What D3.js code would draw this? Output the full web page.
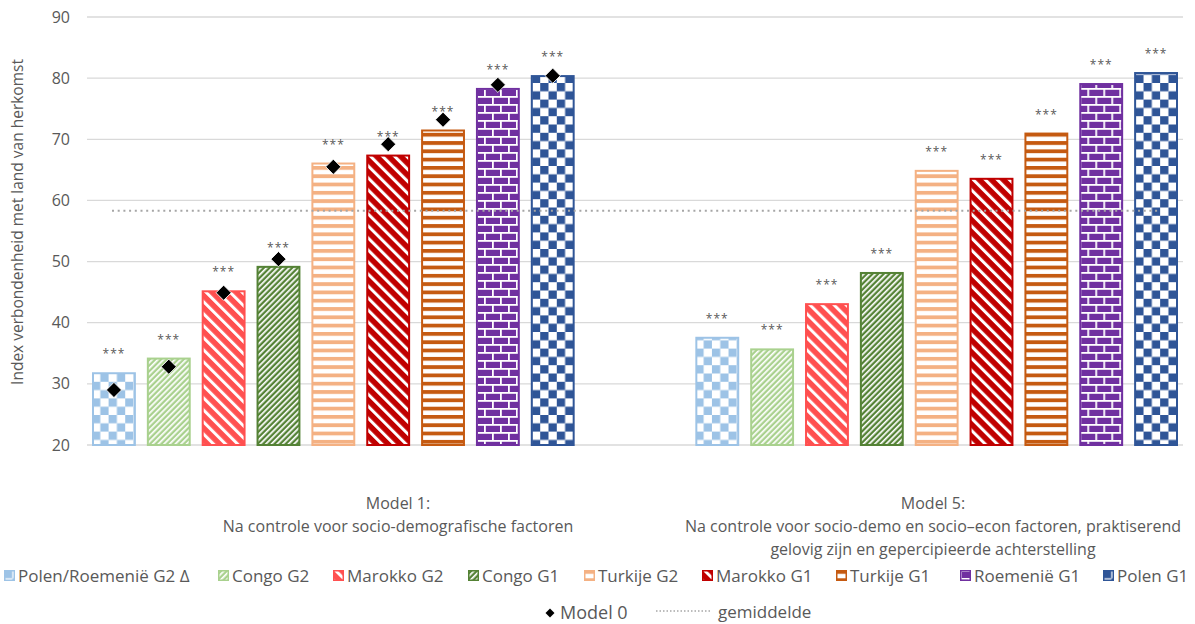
<!DOCTYPE html>
<html><head><meta charset="utf-8">
<script src="https://cdn.jsdelivr.net/npm/d3@7"></script>
<style>
html,body{margin:0;padding:0;background:#fff;}
svg{display:block;font-family:"Open Sans",sans-serif;}
</style></head>
<body>
<svg id="chart" width="1195" height="624"></svg>
<script>
// ---------- data ----------
const groups = ["Model 1", "Model 5"];
const groupLabels = [
  ["Model 1:", "Na controle voor socio-demografische factoren"],
  ["Model 5:", "Na controle voor socio-demo en socio\u2013econ factoren, praktiserend", "gelovig zijn en gepercipieerde achterstelling"]
];
const series = ["Polen/Roemenië G2 \u0394", "Congo G2", "Marokko G2", "Congo G1", "Turkije G2", "Marokko G1", "Turkije G1", "Roemenië G1", "Polen G1"];
const model1 = [31.9, 34.3, 45.3, 49.3, 66.2, 67.5, 71.6, 78.4, 80.5];
const model5 = [37.7, 35.8, 43.2, 48.3, 65.0, 63.7, 71.1, 79.2, 81.0];
const model0 = [29.0, 32.8, 44.9, 50.4, 65.5, 69.2, 73.2, 78.9, 80.4];
const sigModel1 = ["***", "***", "***", "***", "***", "***", "***", "***", "***"];
const sigModel5 = ["***", "***", "***", "***", "***", "***", "***", "***", "***"];
const gemiddelde = 58.3;
const yTicks = [20, 30, 40, 50, 60, 70, 80, 90];
const yTitle = "Index verbondenheid met land van herkomst";

// ---------- styles ----------
const colors = ["#9DC3E6", "#A9D18E", "#FF5050", "#548235", "#F4B183", "#C00000", "#C55A11", "#7030A0", "#2F5597"];
const kinds = ["check", "thin", "wide", "thin", "hstripe", "wide", "hstripe", "brick", "check"];

const svg = d3.select("#chart");
const defs = svg.append("defs");
series.forEach((s, i) => {
  const c = colors[i], k = kinds[i], id = "pat" + i;
  let p;
  if (k === "check") {
    p = defs.append("pattern").attr("id", id).attr("patternUnits", "userSpaceOnUse").attr("width", 16.6).attr("height", 16.6);
    p.append("rect").attr("width", 16.6).attr("height", 16.6).attr("fill", "#fff");
    p.append("rect").attr("width", 8.3).attr("height", 8.3).attr("fill", c);
    p.append("rect").attr("x", 8.3).attr("y", 8.3).attr("width", 8.3).attr("height", 8.3).attr("fill", c);
  } else if (k === "thin") {
    p = defs.append("pattern").attr("id", id).attr("patternUnits", "userSpaceOnUse").attr("width", 4).attr("height", 10).attr("patternTransform", "rotate(45)");
    p.append("rect").attr("width", 4).attr("height", 10).attr("fill", c);
    p.append("rect").attr("width", 1.7).attr("height", 10).attr("fill", "#fff");
  } else if (k === "wide") {
    p = defs.append("pattern").attr("id", id).attr("patternUnits", "userSpaceOnUse").attr("width", 8.5).attr("height", 10).attr("patternTransform", "rotate(-45)");
    p.append("rect").attr("width", 8.5).attr("height", 10).attr("fill", c);
    p.append("rect").attr("width", 3).attr("height", 10).attr("fill", "#fff");
  } else if (k === "hstripe") {
    p = defs.append("pattern").attr("id", id).attr("patternUnits", "userSpaceOnUse").attr("width", 10).attr("height", 8.3);
    p.append("rect").attr("width", 10).attr("height", 8.3).attr("fill", "#fff");
    p.append("rect").attr("width", 10).attr("height", 3.8).attr("fill", c);
  } else if (k === "brick") {
    p = defs.append("pattern").attr("id", id).attr("patternUnits", "userSpaceOnUse").attr("width", 16).attr("height", 16);
    p.append("rect").attr("width", 16).attr("height", 16).attr("fill", c);
    p.append("rect").attr("width", 16).attr("height", 1.8).attr("fill", "#fff");
    p.append("rect").attr("y", 8).attr("width", 16).attr("height", 1.8).attr("fill", "#fff");
    p.append("rect").attr("x", 0).attr("width", 1.8).attr("height", 8).attr("fill", "#fff");
    p.append("rect").attr("x", 8).attr("y", 8).attr("width", 1.8).attr("height", 8).attr("fill", "#fff");
  }
});

// ---------- scales ----------
const plotLeft = 87, plotRight = 1183;
const y = d3.scaleLinear().domain([20, 90]).range([445, 17]);
const x0 = d3.scaleBand().domain(groups).range([92, 1178]).paddingInner(0.2).paddingOuter(0);
const x1 = d3.scaleBand().domain(series).range([0, x0.bandwidth()]).paddingInner(0.2).paddingOuter(0);

// gridlines
svg.append("g").selectAll("line").data(yTicks).join("line")
  .attr("x1", plotLeft).attr("x2", plotRight)
  .attr("y1", d => y(d)).attr("y2", d => y(d))
  .attr("stroke", "#d9d9d9").attr("stroke-width", 1.3);

// y axis (labels only)
const yAxis = d3.axisLeft(y).tickValues(yTicks).tickSize(0).tickPadding(0).tickFormat(d3.format("d"));
const ya = svg.append("g").attr("transform", "translate(70,0)").call(yAxis);
ya.select(".domain").remove();
ya.selectAll("text").attr("fill", "#595959").style("font-size", "16px").style("font-family", "'Open Sans',sans-serif");

// y title
svg.append("text").attr("transform", "translate(23,222) rotate(-90)")
  .attr("text-anchor", "middle").attr("fill", "#595959").style("font-size", "15.5px").text(yTitle);

// bars
const groupData = [
  {g: groups[0], vals: model1, sig: sigModel1, m0: model0},
  {g: groups[1], vals: model5, sig: sigModel5, m0: null}
];
groupData.forEach(gd => {
  const gg = svg.append("g").attr("transform", `translate(${x0(gd.g)},0)`);
  const items = series.map((s, i) => ({s, i, v: gd.vals[i], sig: gd.sig[i]}));
  gg.selectAll("rect.bar").data(items).join("rect").attr("class", "bar")
    .attr("x", d => x1(d.s) + 1).attr("width", x1.bandwidth() - 2)
    .attr("y", d => y(d.v) + 1).attr("height", d => y(20) - y(d.v) - 1)
    .attr("fill", d => `url(#pat${d.i})`)
    .attr("stroke", d => colors[d.i]).attr("stroke-width", 2);
  gg.selectAll("text.sig").data(items).join("text").attr("class", "sig")
    .attr("x", d => x1(d.s) + x1.bandwidth() / 2).attr("y", d => y(d.v) - 14)
    .attr("text-anchor", "middle").attr("fill", "#595959")
    .style("font-size", "12px").style("letter-spacing", "1px").text(d => d.sig);
  if (gd.m0) {
    gg.selectAll("path.m0").data(items).join("path").attr("class", "m0")
      .attr("d", d3.symbol(d3.symbolSquare, 115))
      .attr("transform", d => `translate(${x1(d.s) + x1.bandwidth() / 2},${y(gd.m0[d.i])}) rotate(45)`)
      .attr("fill", "#000").attr("stroke", "#fff").attr("stroke-width", 0.8);
  }
});

// gemiddelde line
svg.append("line").attr("x1", 112).attr("x2", 1158)
  .attr("y1", y(gemiddelde)).attr("y2", y(gemiddelde))
  .attr("stroke", "#a6a6a6").attr("stroke-width", 2).attr("stroke-dasharray", "2,3.7");

// category labels
const labelCenters = [398, 933];
groupLabels.forEach((lines, gi) => {
  const t = svg.append("text").attr("text-anchor", "middle").attr("fill", "#595959").style("font-size", "16px");
  lines.forEach((l, li) => {
    t.append("tspan").attr("x", labelCenters[gi]).attr("y", 508.5 + li * 23).text(l);
  });
});

// legend row 1
const legX = [4, 218, 333, 468, 584, 702, 836, 960, 1103];
const leg = svg.append("g");
series.forEach((s, i) => {
  const g = leg.append("g").attr("transform", `translate(${legX[i]},570)`);
  g.append("rect").attr("x", 0.75).attr("y", 0.75).attr("width", 9.5).attr("height", 9.5)
    .attr("fill", `url(#pat${i})`).attr("stroke", colors[i]).attr("stroke-width", 1.5);
  g.append("text").attr("x", 14).attr("y", 11.5).attr("fill", "#595959").style("font-size", "17px").text(s);
});
// legend row 2
const l2 = svg.append("g");
l2.append("path").attr("d", d3.symbol(d3.symbolSquare, 40)).attr("transform", "translate(550,613) rotate(45)").attr("fill", "#000");
l2.append("text").attr("x", 560).attr("y", 619).attr("fill", "#595959").style("font-size", "18px").text("Model 0");
l2.append("line").attr("x1", 656).attr("x2", 712).attr("y1", 611).attr("y2", 611)
  .attr("stroke", "#a6a6a6").attr("stroke-width", 1.5).attr("stroke-dasharray", "1.5,2");
l2.append("text").attr("x", 718).attr("y", 618).attr("fill", "#595959").style("font-size", "17px").text("gemiddelde");
</script>
</body></html>
